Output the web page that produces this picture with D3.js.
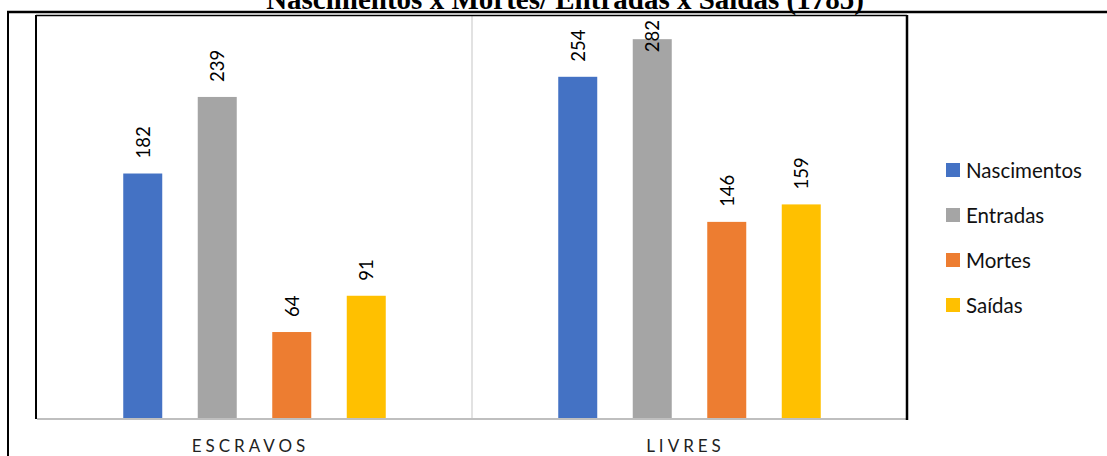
<!DOCTYPE html>
<html>
<head>
<meta charset="utf-8">
<script src="https://cdn.jsdelivr.net/npm/d3@7"></script>
<style>
  body { margin: 0; background: #fff; }
  svg { display: block; }
</style>
</head>
<body>
<div id="chart"></div>
<script>
// data
var titleText = "Nascimentos x Mortes/ Entradas x Saídas (1785)";
var categories = ["ESCRAVOS", "LIVRES"];
var seriesNames = ["Nascimentos", "Entradas", "Mortes", "Saídas"];
var nascimentos = [182, 254];
var entradas = [239, 282];
var mortes = [64, 146];
var saidas = [91, 159];
var yDomain = [0, 300];

var colors = ["#4472C4", "#A5A5A5", "#ED7D31", "#FFC000"];
var seriesValues = [nascimentos, entradas, mortes, saidas];

// sizes
var W = 1107, H = 456;
var plot = {left: 37, right: 907, top: 15, bottom: 418};

var svg = d3.select("#chart").append("svg")
    .attr("width", W).attr("height", H);

// title (cut at the top, like the page it was taken from)
svg.append("text")
    .attr("x", 565).attr("y", 9)
    .attr("text-anchor", "middle")
    .style("font-family", "'Liberation Serif', 'Times New Roman', serif")
    .style("font-weight", "bold")
    .style("font-size", "29px")
    .text(titleText);

// scales
var x0 = d3.scaleBand().domain(categories).range([plot.left, plot.right]);
var groupW = x0.bandwidth() * 0.685;
var x1 = d3.scaleBand().domain(seriesNames).range([0, groupW])
    .paddingInner(0.4765).paddingOuter(0.238);
var y = d3.scaleLinear().domain(yDomain).range([plot.bottom, plot.top]);

// category separator
svg.append("line")
    .attr("x1", x0("LIVRES")).attr("x2", x0("LIVRES"))
    .attr("y1", plot.top).attr("y2", plot.bottom)
    .style("stroke", "#d9d9d9").style("stroke-width", 1.5);

// bars
var rows = [];
categories.forEach(function(c, i){
    seriesNames.forEach(function(s, j){
        rows.push({cat: c, name: s, value: seriesValues[j][i], color: colors[j]});
    });
});

function barX(d){
    return x0(d.cat) + (x0.bandwidth() - groupW) / 2 + x1(d.name);
}

svg.selectAll("rect.bar").data(rows).enter().append("rect")
    .attr("class", "bar")
    .attr("x", barX)
    .attr("y", function(d){ return y(d.value); })
    .attr("width", x1.bandwidth())
    .attr("height", function(d){ return y(0) - y(d.value); })
    .style("fill", function(d){ return d.color; });

// data labels, rotated; pushed down when they hit the top
var labels = svg.selectAll("text.lbl").data(rows).enter().append("text")
    .attr("class", "lbl")
    .style("font-family", "Lato, 'Noto Sans', sans-serif")
    .style("font-size", "18.5px")
    .style("fill", "#000")
    .attr("dominant-baseline", "central")
    .text(function(d){ return d.value; });

labels.attr("transform", function(d){
    var len = this.getComputedTextLength();
    var cy = Math.max(y(d.value) - 15, plot.top + 5 + len);
    var cx = barX(d) + x1.bandwidth() / 2;
    return "translate(" + cx + "," + cy + ") rotate(-90)";
});

// axis baseline
svg.append("line")
    .attr("x1", plot.left).attr("x2", plot.right)
    .attr("y1", plot.bottom + 1).attr("y2", plot.bottom + 1)
    .style("stroke", "#bfbfbf").style("stroke-width", 2);

// category labels
svg.selectAll("text.cat").data(categories).enter().append("text")
    .attr("class", "cat")
    .attr("x", function(d){ return x0(d) + x0.bandwidth() / 2 - 4; })
    .attr("y", 452)
    .attr("text-anchor", "middle")
    .style("font-family", "Lato, 'Noto Sans', sans-serif")
    .style("font-size", "17px")
    .style("letter-spacing", "4px")
    .style("fill", "#222")
    .text(function(d){ return d; });

// frame lines of the page table and chart box
var frame = svg.append("g").style("stroke", "#000");
frame.append("line").attr("x1", 7).attr("x2", W).attr("y1", 12).attr("y2", 12).style("stroke-width", 2.5);
frame.append("line").attr("x1", plot.left - 1).attr("x2", plot.right).attr("y1", 15.5).attr("y2", 15.5).style("stroke-width", 1.5);
frame.append("line").attr("x1", 8).attr("x2", 8).attr("y1", 11).attr("y2", H).style("stroke-width", 2);
frame.append("line").attr("x1", plot.left - 1).attr("x2", plot.left - 1).attr("y1", 15).attr("y2", plot.bottom + 1).style("stroke-width", 2);
frame.append("line").attr("x1", plot.right).attr("x2", plot.right).attr("y1", 15).attr("y2", plot.bottom + 2).style("stroke-width", 2.5);

// legend
var legend = svg.selectAll("g.leg").data(seriesNames).enter().append("g")
    .attr("class", "leg")
    .attr("transform", function(d, i){ return "translate(946," + (170 + i * 45) + ")"; });
legend.append("rect")
    .attr("x", 0).attr("y", -7).attr("width", 14).attr("height", 14)
    .style("fill", function(d, i){ return colors[i]; });
legend.append("text")
    .attr("x", 20).attr("y", 0)
    .attr("dominant-baseline", "central")
    .style("font-family", "Lato, 'Noto Sans', sans-serif")
    .style("font-size", "20.5px")
    .style("fill", "#111")
    .text(function(d){ return d; });
</script>
</body>
</html>
